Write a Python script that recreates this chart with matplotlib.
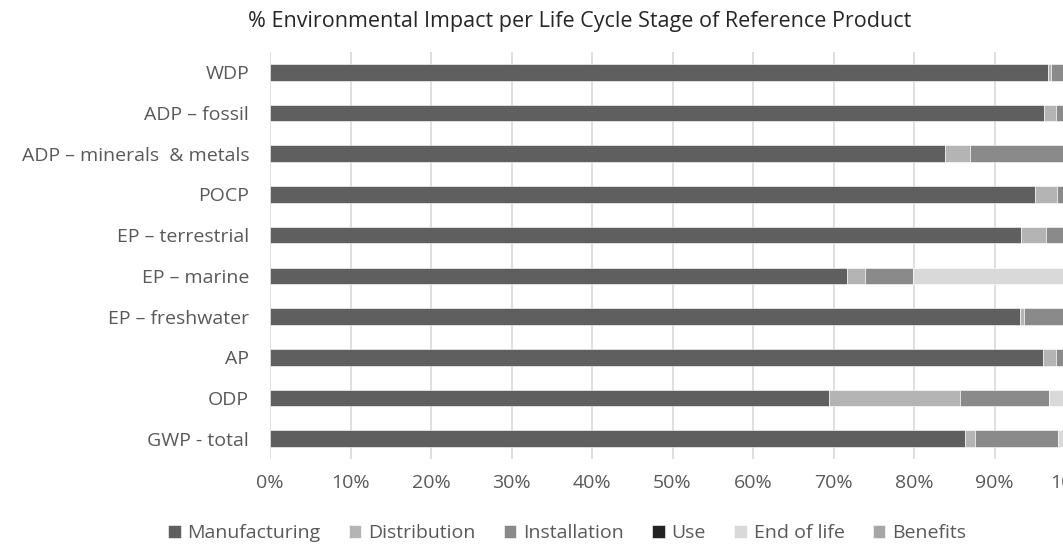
import numpy as np
import matplotlib
matplotlib.use("Agg")
import matplotlib.pyplot as plt

plt.rcParams['font.family'] = ['Open Sans', 'DejaVu Sans']

categories = ["GWP - total", "ODP", "AP", "EP – freshwater", "EP – marine",
              "EP – terrestrial", "POCP", "ADP – minerals  & metals",
              "ADP – fossil", "WDP"]
stages = ["Manufacturing", "Distribution", "Installation", "Use", "End of life", "Benefits"]

manufacturing = [86.3, 69.4, 96.0, 93.2, 71.7, 93.3, 95.0, 83.8, 96.1, 96.7]
distribution = [1.3, 16.3, 1.6, 0.5, 2.2, 3.1, 2.8, 3.1, 1.5, 0.3]
installation = [10.3, 11.1, 2.4, 6.3, 6.0, 3.6, 2.2, 13.1, 2.4, 3.0]
use = [0, 0, 0, 0, 0, 0, 0, 0, 0, 0]
end_of_life = [2.1, 3.2, 0, 0, 20.1, 0, 0, 0, 0, 0]
benefits = [0, 0, 0, 0, 0, 0, 0, 0, 0, 0]

series = [manufacturing, distribution, installation, use, end_of_life, benefits]
colors = ["#5f5f5f", "#b4b4b4", "#8a8a8a", "#222222", "#d9d9d9", "#a6a6a6"]

fig = plt.figure(figsize=(10.63, 5.46), dpi=100)
ax = fig.add_axes([270 / 1063, 1 - 459 / 546, 805 / 1063, 407 / 546])

y = np.arange(len(categories))
left = np.zeros(len(categories))
for name, vals, c in zip(stages, series, colors):
    vals = np.array(vals)
    ax.barh(y, vals, left=left, height=0.41, color=c, label=name,
            edgecolor="white", linewidth=0.4)
    left += vals

ax.set_xlim(0, 100)
ax.set_ylim(-0.5, len(categories) - 0.5)
ax.set_xticks(np.arange(0, 101, 10))
ax.set_xticklabels([f"{v}%" for v in range(0, 101, 10)])
ax.set_yticks(y)
ax.set_yticklabels(categories)
ax.tick_params(axis="both", length=0, labelsize=14, colors="#595959")
ax.tick_params(axis="x", pad=11)
ax.tick_params(axis="y", pad=15)
ax.xaxis.grid(True, color="#d9d9d9", linewidth=1.2)
ax.set_axisbelow(True)
for s in ax.spines.values():
    s.set_visible(False)

fig.text(580 / 1063, 1 - 22 / 546, "% Environmental Impact per Life Cycle Stage of Reference Product",
         ha="center", va="center", fontsize=15.5, color="#262626")

handles, labels = ax.get_legend_handles_labels()
fig.legend(handles, labels, loc="center", bbox_to_anchor=(567 / 1063, 1 - 533 / 546),
           ncol=6, frameon=False, fontsize=14, handlelength=0.65, handleheight=0.65,
           handletextpad=0.35, columnspacing=1.45, labelcolor="#595959")

fig.savefig("out.png", dpi=100)
